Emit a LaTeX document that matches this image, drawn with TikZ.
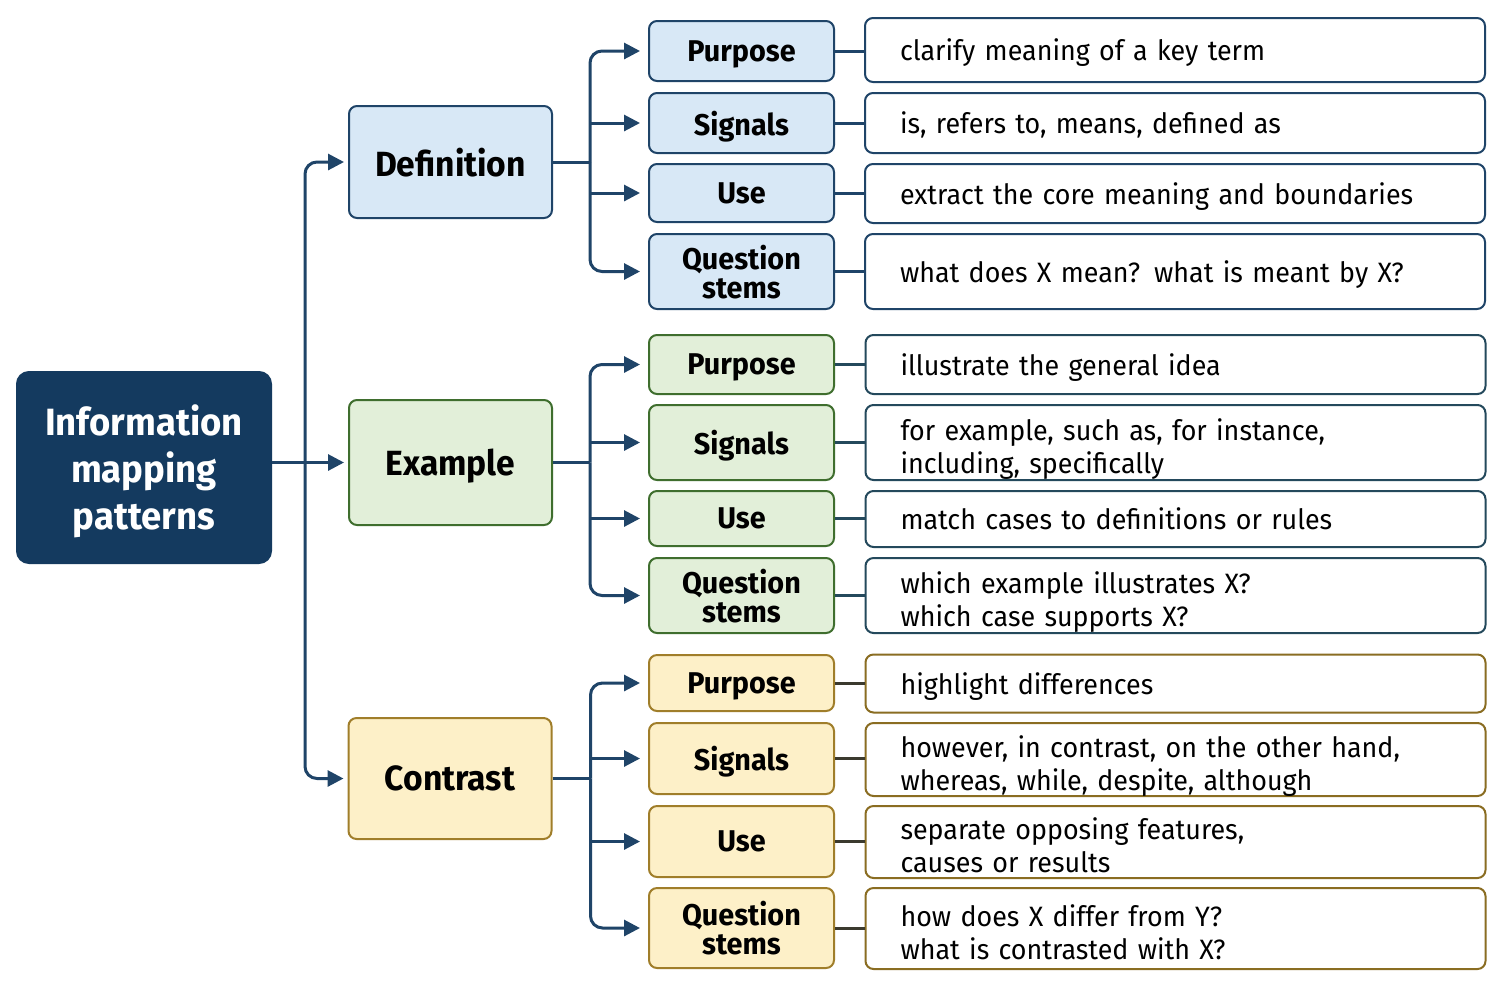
\documentclass[tikz,border=0pt]{standalone}
\usepackage{fontspec}
\setmainfont{Fira Sans}[FakeStretch=0.96]
\usepackage{tikz}
\usetikzlibrary{positioning}
\usetikzlibrary{calc}
\usetikzlibrary{arrows.meta}

\definecolor{navy}{HTML}{143A5F}
\definecolor{wire}{HTML}{1F4468}
\definecolor{deffill}{HTML}{D8E8F6}
\definecolor{defline}{HTML}{1F4468}
\definecolor{exfill}{HTML}{E2EFD9}
\definecolor{exline}{HTML}{3F6E2E}
\definecolor{exdetail}{HTML}{24495C}
\definecolor{confill}{HTML}{FDF0C8}
\definecolor{conline}{HTML}{A07E2A}
\definecolor{condetail}{HTML}{8A6D22}
\definecolor{conwire}{HTML}{3B3A2E}

\begin{document}
\begin{tikzpicture}[x=0.5pt,y=-0.5pt]
    % \draw (0,0) grid (1504,987);
  \useasboundingbox[fill=white] (0,0) rectangle (1504,987);

  \tikzset{box common/.style={draw, rounded corners=4pt, line width=1pt, align=center, inner sep=0pt, text depth=0pt}}
  \tikzset{root node/.style={box common, fill=navy, draw=navy, text=white, rounded corners=6pt,
      minimum width=127pt, minimum height=95.5pt, font=\fontsize{19}{23.5}\selectfont\bfseries}}
  \tikzset{topic node/.style={box common, minimum width=101.5pt, font=\fontsize{17.5}{21}\selectfont\bfseries}}
  \tikzset{item node/.style={box common, minimum width=92.5pt, font=\fontsize{15}{14.5}\selectfont\bfseries}}
  \tikzset{detail node/.style={box common, fill=white, align=left, text width=275pt, inner xsep=17.5pt,
      font=\fontsize{14}{16.5}\selectfont}}
  \tikzset{two lines/.style={text depth=13pt}}
  \tikzset{def box/.style={fill=deffill, draw=defline}}
  \tikzset{ex box/.style={fill=exfill, draw=exline}}
  \tikzset{con box/.style={fill=confill, draw=conline}}
  \tikzset{flow/.style={draw=wire, line width=1.5pt, -{Triangle[length=8pt,width=8pt]}, shorten >=4pt}}
  \tikzset{link/.style={line width=1.5pt}}

  % root and the three patterns
  \node[root node] (info) at (144,467.5) {Information\\mapping\\patterns};
  \node[topic node, def box, minimum height=56pt] (def) at (450.5,162) {Definition};
  \node[topic node, ex box, minimum height=62.5pt] (ex) at (450.5,462.5) {Example};
  \node[topic node, con box, minimum height=60.5pt] (con) at (450,778.5) {Contrast};
  %
  % definition
  \node[item node, def box, minimum height=30pt] (defpur) at (741.5,51) {Purpose};
  \node[item node, def box, minimum height=30pt] (defsig) at (741.5,123) {Signals};
  \node[item node, def box, minimum height=29pt] (defuse) at (741.5,193) {Use};
  \node[item node, def box, minimum height=37.5pt] (defq) at (741.5,271.5) {Question\\stems};
  \node[detail node, draw=defline, minimum height=32pt] (defpurd) at (1175,50) {clarify meaning of a key term};
  \node[detail node, draw=defline, minimum height=30pt] (defsigd) at (1175,123) {is, refers to, means, defined as};
  \node[detail node, draw=defline, minimum height=29.5pt] (defused) at (1175,193.5) {extract the core meaning and boundaries};
  \node[detail node, draw=defline, minimum height=37.5pt] (defqd) at (1175,271.5) {what does X mean? what is meant by X?};
  %
  % example
  \node[item node, ex box, minimum height=29.5pt] (expur) at (741.5,364.5) {Purpose};
  \node[item node, ex box, minimum height=37.5pt] (exsig) at (741.5,442.5) {Signals};
  \node[item node, ex box, minimum height=27.5pt] (exuse) at (741.5,518.5) {Use};
  \node[item node, ex box, minimum height=37.5pt] (exq) at (741.5,595.5) {Question\\stems};
  \node[detail node, draw=exdetail, minimum height=29.5pt] (expurd) at (1175.5,364.5) {illustrate the general idea};
  \node[detail node, two lines, draw=exdetail, minimum height=37.5pt] (exsigd) at (1175.5,442.5) {for example, such as, for instance,\\including, specifically};
  \node[detail node, draw=exdetail, minimum height=28pt] (exused) at (1175.5,519) {match cases to definitions or rules};
  \node[detail node, two lines, draw=exdetail, minimum height=37.5pt] (exqd) at (1175.5,595.5) {which example illustrates X?\\which case supports X?};
  %
  % contrast
  \node[item node, con box, minimum height=28pt] (conpur) at (741.5,683) {Purpose};
  \node[item node, con box, minimum height=35.5pt] (consig) at (741.5,758.5) {Signals};
  \node[item node, con box, minimum height=35.5pt] (conuse) at (741.5,841.5) {Use};
  \node[item node, con box, minimum height=40pt] (conq) at (741.5,928) {Question\\stems};
  \node[detail node, draw=condetail, minimum height=29pt] (conpurd) at (1175.5,683.5) {highlight differences};
  \node[detail node, two lines, draw=condetail, minimum height=36.5pt] (consigd) at (1175.5,759.5) {however, in contrast, on the other hand,\\whereas, while, despite, although};
  \node[detail node, two lines, draw=condetail, minimum height=36pt] (conused) at (1175.5,842) {separate opposing features,\\causes or results};
  \node[detail node, two lines, draw=condetail, minimum height=40.5pt] (conqd) at (1175.5,928.5) {how does X differ from Y?\\what is contrasted with X?};
  %
  %
  \coordinate (hub) at ($(info.east |- ex.west)+(33,0)$);
  \draw[flow, shorten >=2pt] (info.east |- ex.west) -- (ex.west);
  \draw[flow, shorten >=2pt, rounded corners=6pt] (hub) |- (def.west);
  \draw[flow, shorten >=2pt, rounded corners=6pt] (hub) |- (con.west);
  %
  \draw[link, draw=wire] (def.east) -- ++(37,0) coordinate (defhub);
  \draw[flow, rounded corners=6pt] (defhub) |- (defpur.west);
  \draw[flow] (defhub |- defsig.west) -- (defsig.west);
  \draw[flow] (defhub |- defuse.west) -- (defuse.west);
  \draw[flow, rounded corners=6pt] (defhub) |- (defq.west);
  %
  \draw[link, draw=wire] (ex.east) -- ++(37,0) coordinate (exhub);
  \draw[flow, rounded corners=6pt] (exhub) |- (expur.west);
  \draw[flow] (exhub |- exsig.west) -- (exsig.west);
  \draw[flow] (exhub |- exuse.west) -- (exuse.west);
  \draw[flow, rounded corners=6pt] (exhub) |- (exq.west);
  %
  \draw[link, draw=wire] (con.east) -- ++(38,0) coordinate (conhub);
  \draw[flow, rounded corners=6pt] (conhub) |- (conpur.west);
  \draw[flow] (conhub |- consig.west) -- (consig.west);
  \draw[flow] (conhub |- conuse.west) -- (conuse.west);
  \draw[flow, rounded corners=6pt] (conhub) |- (conq.west);
  %
  \draw[link, draw=wire] (defpur.east) -- (defpur.east -| defpurd.west);
  \draw[link, draw=wire] (defsig.east) -- (defsig.east -| defsigd.west);
  \draw[link, draw=wire] (defuse.east) -- (defuse.east -| defused.west);
  \draw[link, draw=wire] (defq.east) -- (defq.east -| defqd.west);
  \draw[link, draw=exdetail] (expur.east) -- (expur.east -| expurd.west);
  \draw[link, draw=exdetail] (exsig.east) -- (exsig.east -| exsigd.west);
  \draw[link, draw=exdetail] (exuse.east) -- (exuse.east -| exused.west);
  \draw[link, draw=exdetail] (exq.east) -- (exq.east -| exqd.west);
  \draw[link, draw=conwire] (conpur.east) -- (conpur.east -| conpurd.west);
  \draw[link, draw=conwire] (consig.east) -- (consig.east -| consigd.west);
  \draw[link, draw=conwire] (conuse.east) -- (conuse.east -| conused.west);
  \draw[link, draw=conwire] (conq.east) -- (conq.east -| conqd.west);
\end{tikzpicture}
\end{document}
